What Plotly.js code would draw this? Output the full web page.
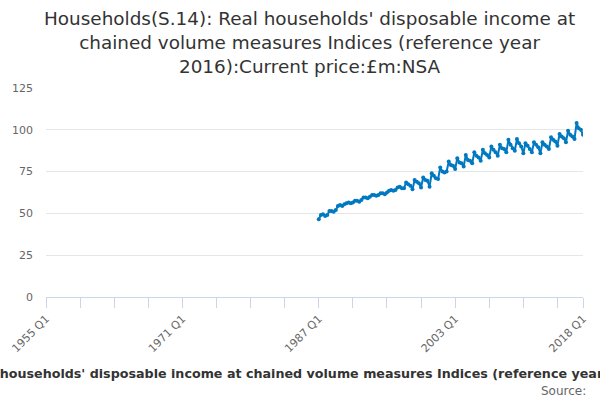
<!DOCTYPE html>
<html>
<head>
<meta charset="utf-8">
<script src="https://cdn.plot.ly/plotly-3.0.1.min.js"></script>
<style>
  html, body { margin: 0; padding: 0; background: #fff; }
  #chart { width: 600px; height: 400px; }
</style>
</head>
<body>
<div id="chart"></div>
<script>
// axis runs 1955 Q1 .. 2018 Q1, series starts 1987 Q1
const firstYear = 1955;
const lastYear = 2018;
const seriesStart = "1987 Q1";

// quarterly index values, 1987 Q1 onwards
const values = [
  46.5, 49.0, 49.5, 48.5,   // 1987
  49.0, 51.5, 51.5, 51.0,   // 1988
  52.0, 54.5, 55.0, 54.5,   // 1989
  55.5, 56.0, 56.5, 56.0,   // 1990
  56.5, 57.5, 57.5, 57.0,   // 1991
  58.0, 59.5, 59.5, 59.0,   // 1992
  60.0, 61.0, 61.0, 60.5,   // 1993
  61.0, 62.0, 62.0, 61.5,   // 1994
  62.5, 63.5, 64.0, 63.5,   // 1995
  64.0, 65.5, 66.0, 65.0,   // 1996
  65.0, 68.5, 67.5, 66.5,   // 1997
  64.5, 70.0, 69.0, 68.0,   // 1998
  65.5, 71.5, 70.0, 69.5,   // 1999
  66.0, 74.0, 72.5, 71.0,   // 2000
  70.5, 77.5, 75.0, 74.5,   // 2001
  75.0, 81.0, 79.0, 78.5,   // 2002
  76.5, 83.0, 80.5, 80.0,   // 2003
  78.0, 85.0, 82.0, 81.5,   // 2004
  80.0, 86.5, 84.5, 83.5,   // 2005
  81.5, 88.0, 86.0, 85.0,   // 2006
  83.5, 90.0, 88.0, 86.5,   // 2007
  84.5, 91.0, 89.0, 88.5,   // 2008
  86.5, 94.0, 91.0, 89.0,   // 2009
  87.5, 94.5, 92.0, 90.0,   // 2010
  86.0, 92.0, 90.5, 88.5,   // 2011
  86.5, 92.5, 91.0, 89.5,   // 2012
  86.0, 92.5, 91.0, 90.0,   // 2013
  88.5, 95.5, 94.0, 93.0,   // 2014
  90.5, 97.5, 96.0, 95.0,   // 2015
  92.5, 99.5, 97.0, 96.0,   // 2016
  94.5, 104.0, 101.0, 100.0, // 2017
  97.0                      // 2018
];

const tickLabels = ["1955 Q1", "1971 Q1", "1987 Q1", "2003 Q1", "2018 Q1"];
const titleText = "Households(S.14): Real households' disposable income at<br>chained volume measures Indices (reference year<br>2016):Current price:£m:NSA";
const axisTitle = "Real households' disposable income at chained volume measures Indices (reference year 2016)";

const quarters = [];
for (let y = firstYear; y <= lastYear; y++) {
  for (let q = 1; q <= 4; q++) {
    if (y === lastYear && q > 1) break;
    quarters.push(`${y} Q${q}`);
  }
}
const start = quarters.indexOf(seriesStart);
const xs = quarters.slice(start, start + values.length);

// a tick every 4 years plus the final quarter, label only some of them
const tickvals = quarters.filter((c, i) => i % 16 === 0 || i === quarters.length - 1);
const ticktext = tickvals.map((c) => (tickLabels.includes(c) ? c : ""));

const font = "DejaVu Sans, sans-serif";

const trace = {
  x: xs,
  y: values,
  type: "scatter",
  mode: "lines+markers",
  line: { color: "#0079c1", width: 2 },
  marker: { color: "#0079c1", size: 4 },
  hoverinfo: "x+y",
};

const layout = {
  width: 600,
  height: 400,
  margin: { l: 46, r: 17, t: 88, b: 103 },
  paper_bgcolor: "#fff",
  plot_bgcolor: "#fff",
  showlegend: false,
  font: { family: font, color: "#666", size: 11 },
  xaxis: {
    type: "category",
    categoryorder: "array",
    categoryarray: quarters,
    range: [0, quarters.length - 1],
    tickmode: "array",
    tickvals: tickvals,
    ticktext: ticktext,
    tickangle: -45,
    ticks: "outside",
    ticklen: 10,
    tickcolor: "#ccd6eb",
    showline: true,
    linecolor: "#ccd6eb",
    showgrid: false,
    zeroline: false,
    tickfont: { family: font, size: 11, color: "#666" },
  },
  yaxis: {
    range: [0, 125],
    tickvals: [0, 25, 50, 75, 100, 125],
    showgrid: true,
    gridcolor: "#e6e6e6",
    zeroline: false,
    showline: false,
    ticks: "",
    ticklabelstandoff: 12,
    tickfont: { family: font, size: 11, color: "#666" },
  },
  annotations: [
    {
      text: titleText,
      xref: "paper", yref: "paper", x: 0.49, y: 1.22,
      xanchor: "center", yanchor: "middle", showarrow: false,
      font: { family: font, size: 18.4, color: "#333" },
    },
    {
      text: "<b>" + axisTitle + "</b>",
      xref: "paper", yref: "paper", x: 0.486, y: -0.364,
      xanchor: "center", yanchor: "middle", showarrow: false,
      font: { family: font, size: 12.7, color: "#333" },
    },
    {
      text: "Source:",
      xref: "paper", yref: "paper", x: 1.009, y: -0.45,
      xanchor: "right", yanchor: "middle", showarrow: false,
      font: { family: font, size: 12, color: "#666" },
    },
  ],
};

Plotly.newPlot("chart", [trace], layout, { displayModeBar: false, staticPlot: true });
</script>
</body>
</html>
